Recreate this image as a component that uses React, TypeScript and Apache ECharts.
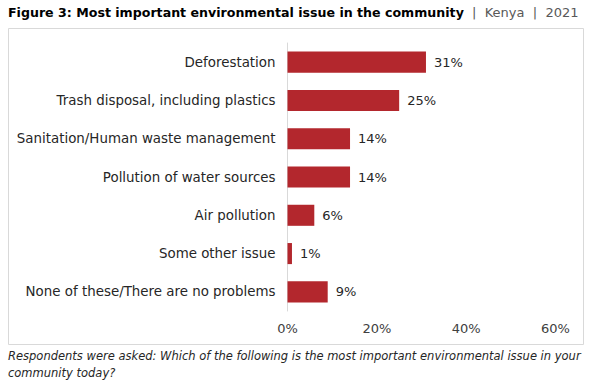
import React, { useEffect, useRef } from "react";
import * as echarts from "echarts";

const categories = [
  "Deforestation",
  "Trash disposal, including plastics",
  "Sanitation/Human waste management",
  "Pollution of water sources",
  "Air pollution",
  "Some other issue",
  "None of these/There are no problems",
];
const values = [31, 25, 14, 14, 6, 1, 9];
const xTicks = [0, 20, 40, 60];

const titleBold = "Figure 3: Most important environmental issue in the community";
const titleRest = "  |  Kenya  |  2021";
const footnote1 =
  "Respondents were asked: Which of the following is the most important environmental issue in your";
const footnote2 = "community today?";

const FONT = "'DejaVu Sans', sans-serif";

export default function App() {
  const ref = useRef<HTMLDivElement>(null);
  useEffect(() => {
    if (!ref.current) return;
    const chart = echarts.init(ref.current, undefined, { renderer: "svg" });
    chart.setOption({
      animation: false,
      backgroundColor: "#ffffff",
      textStyle: { fontFamily: FONT },
      graphic: [
        {
          type: "rect",
          shape: { x: 8.5, y: 28.5, width: 575, height: 316 },
          style: { fill: "none", stroke: "#d9d9d9", lineWidth: 1 },
          silent: true,
        },
        {
          type: "text",
          left: 8,
          top: 6,
          style: {
            rich: {
              b: { fontFamily: FONT, fontWeight: "bold", fontSize: 12.6, fill: "#000" },
              r: { fontFamily: FONT, fontSize: 13, fill: "#595959" },
            },
            text: `{b|${titleBold}}{r|${titleRest}}`,
          },
        },
        {
          type: "text",
          left: 8,
          top: 347,
          style: {
            text: footnote1 + "\n" + footnote2,
            fontFamily: FONT,
            fontStyle: "italic",
            fontSize: 11.5,
            lineHeight: 17,
            fill: "#262626",
          },
        },
      ],
      grid: { left: 287.5, right: 46.5, top: 43, bottom: 72, containLabel: false },
      xAxis: {
        type: "value",
        min: xTicks[0],
        max: xTicks[xTicks.length - 1],
        interval: 20,
        axisLine: { show: false },
        axisTick: { show: false },
        splitLine: { show: false },
        axisLabel: {
          formatter: "{value}%",
          color: "#404040",
          fontSize: 13,
          margin: 11,
          fontFamily: FONT,
        },
      },
      yAxis: {
        type: "category",
        inverse: true,
        data: categories,
        axisLine: { show: true, lineStyle: { color: "#d9d9d9" } },
        axisTick: { show: false },
        axisLabel: { color: "#262626", fontSize: 13.4, margin: 12, fontFamily: FONT },
      },
      series: [
        {
          type: "bar",
          data: values,
          barCategoryGap: "45%",
          itemStyle: { color: "#B3272D" },
          label: {
            show: true,
            position: "right",
            distance: 8,
            formatter: "{c}%",
            color: "#262626",
            fontSize: 13,
            fontFamily: FONT,
          },
        },
      ],
    });
    return () => chart.dispose();
  }, []);
  return (
    <div
      ref={ref}
      style={{ position: "absolute", left: 0, top: 0, width: 602, height: 383 }}
    />
  );
}
